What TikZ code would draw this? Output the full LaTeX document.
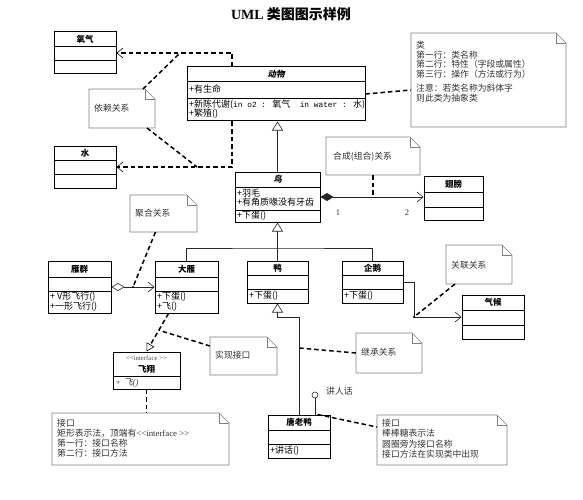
\documentclass[tikz,border=0pt]{standalone}
\usepackage{fontspec}
\setmainfont{Noto Sans CJK SC}
\newfontfamily\lat{Liberation Serif}
\newfontfamily\mon[Scale=0.87]{Liberation Mono}
\newfontfamily\cjksl[FakeSlant=0.2]{Noto Sans CJK SC}
\usetikzlibrary{arrows.meta,calc}

\tikzset{
 clsbox/.style={draw, line width=1pt, inner sep=0pt},
 clsdiv/.style={line width=0.9pt},
 ctitle/.style={font=\fontsize{8.5}{10}\selectfont\bfseries, inner sep=0pt},
 cmem/.style={font=\fontsize{9}{10}\selectfont, anchor=west, inner sep=0pt},
 notebox/.style={inner sep=0pt, outer sep=0pt},
 noteline/.style={draw=black!50, line width=0.6pt},
 ntext/.style={font=\fontsize{8.8}{9.6}\selectfont, text=black!80, anchor=north west, align=left, inner sep=0pt},
 nword/.style={font=\fontsize{8.8}{9.6}\selectfont, text=black!80, anchor=west, inner sep=0pt},
 dline/.style={line width=1.5pt, dash pattern=on 4.5pt off 3pt},
 sline/.style={line width=0.5pt, draw=black!85},
 gen/.style={sline, -{Triangle[open, length=9pt, width=11pt, fill=white, line width=0.6pt]}},
 depa/.style={-{Straight Barb[length=6pt, width=10pt, line width=0.6pt]}},
 jdot/.style={circle, fill=black, inner sep=0pt, minimum size=2.4pt},
 lbl/.style={font=\lat\fontsize{8.5}{10}\selectfont, text=black!80, inner sep=0pt},
}

\newcommand\umlcls[7]{%
 \node[clsbox, minimum width={(#4-#2)*1pt}, minimum height={(#5-#3)*1pt}] (#1) at ({(#2+#4)/2},{(#3+#5)/2}) {};
 \draw[clsdiv] (#2,#6) -- (#4,#6);
 \draw[clsdiv] (#2,#7) -- (#4,#7);}

\newcommand\umlnote[5]{%
 \node[notebox, minimum width={(#4-#2)*1pt}, minimum height={(#5-#3)*1pt}] (#1) at ({(#2+#4)/2},{(#3+#5)/2}) {};
 \draw[noteline] (#1.north west) -- ([xshift=-10pt]#1.north east) -- ([yshift=-10pt]#1.north east) -- (#1.south east) -- (#1.south west) -- cycle;
 \draw[noteline] ([xshift=-10pt]#1.north east) |- ([yshift=-10pt]#1.north east);}

\begin{document}
\begin{tikzpicture}[x=1pt,y=-1pt]
\useasboundingbox[fill=white] (0,0) rectangle (583,500);

% title
\node[inner sep=0pt, font=\fontsize{14}{16}\selectfont\bfseries] (title) at (291,14) {{\lat UML} 类图图示样例};

% notes
\umlnote{clsnote}{411}{33}{566}{127}
\node[ntext] (clsnoteT) at (416,41) {类\\第一行：类名称\\第二行：特性（字段或属性）\\第三行：操作（方法或行为）\\[5pt]注意：若类名称为斜体字\\则此类为抽象类};
\umlnote{dnote}{89}{89}{155}{128}
\node[nword] (dnoteT) at (94,108) {依赖关系};
\umlnote{cnote}{326}{137}{420}{175}
\node[nword] (cnoteT) at (333,157) {合成(组合)关系};
\umlnote{anote}{130}{195}{197}{232}
\node[nword] (anoteT) at (135,213) {聚合关系};
\umlnote{lnote}{446}{245}{512}{284}
\node[nword] (lnoteT) at (451,265) {关联关系};
\umlnote{inote}{356}{333}{422}{373}
\node[nword] (inoteT) at (361,352) {继承关系};
\umlnote{rnote}{210}{337}{277}{375}
\node[nword] (rnoteT) at (215,355) {实现接口};
\umlnote{bnote}{52}{413}{229}{465}
\node[ntext, font=\fontsize{8.8}{10}\selectfont] (bnoteT) at (57,418.5) {接口\\矩形表示法，顶端有{\lat <<interface >>}\\第一行：接口名称\\第二行：接口方法};
\umlnote{pnote}{377}{415}{507}{465}
\node[ntext, font=\fontsize{8.8}{10.5}\selectfont] (pnoteT) at (382,418.5) {接口\\棒棒糖表示法\\圆圈旁为接口名称\\接口方法在实现类中出现};

% classes
\umlcls{oxy}{54}{32}{116}{74}{46}{60}
\node[ctitle] (oxyT) at (85,39) {氧气};
\umlcls{water}{54}{146}{116}{188}{160}{174}
\node[ctitle] (waterT) at (85,153) {水};

\umlcls{anim}{187}{67}{365}{121}{81}{98}
\node[ctitle] (animT) at (276,74) {\cjksl 动物};
\node[cmem] (animA) at (189,89) {+有生命};
\node[cmem] (animO1) at (189,104.5) {+新陈代谢({\mon in o2 : }氧气{\mon\ \ in water : }水)};
\node[cmem] (animO2) at (189,114) {+繁殖()};

\umlcls{bird}{235}{172}{320}{222}{187}{210}
\node[ctitle] (birdT) at (277.5,179.5) {\cjksl 鸟};
\node[cmem] (birdA1) at (237,193) {+羽毛};
\node[cmem] (birdA2) at (237,202) {+有角质喙没有牙齿};
\node[cmem] (birdO) at (237,216) {+下蛋()};

\umlcls{wings}{424}{176}{483}{220}{192}{207}
\node[ctitle] (wingsT) at (453.5,184) {翅膀};

\umlcls{flock}{48}{261}{111}{313}{277}{291}
\node[ctitle] (flockT) at (79.5,269) {雁群};
\node[cmem] (flockO1) at (50,297) {+ V形飞行()};
\node[cmem] (flockO2) at (50,307) {+一形飞行()};

\umlcls{goose}{155}{261}{218}{313}{277}{291}
\node[ctitle] (gooseT) at (186.5,269) {大雁};
\node[cmem] (gooseO1) at (157,297) {+下蛋()};
\node[cmem] (gooseO2) at (157,307) {+飞()};

\umlcls{duck}{247}{261}{308}{303}{275}{289}
\node[ctitle] (duckT) at (277.5,268) {鸭};
\node[cmem] (duckO) at (249,296) {+下蛋()};

\umlcls{peng}{342}{261}{403}{303}{275}{289}
\node[ctitle] (pengT) at (372.5,268) {企鹅};
\node[cmem] (pengO) at (344,296) {+下蛋()};

\umlcls{climate}{462}{295}{524}{339}{310}{325}
\node[ctitle] (climateT) at (493,302.5) {气候};

\umlcls{iface}{113}{352}{180}{389}{376}{376}
\node[inner sep=0pt, font=\lat\fontsize{6.8}{8}\selectfont, text=black!70] (ifaceS) at (146.5,358) {<<interface >>};
\node[ctitle] (ifaceT) at (146.5,369) {飞翔};
\node[cmem, text=black!75] (ifaceO) at (115,382.5) {{\lat\itshape + }{\cjksl 飞}{\lat\itshape ()}};

\umlcls{tang}{268}{415}{330}{458}{430}{444}
\node[ctitle] (tangT) at (299,422.5) {唐老鸭};
\node[cmem] (tangO) at (270,451) {+讲话()};

% dependency
\draw[dline, depa] ([xshift=-44pt]anim.north) |- (oxy.east);
\draw[dline, depa] ([xshift=-44pt]anim.south) |- (water.east);
\coordinate (dj1) at (180,53);
\coordinate (dj2) at (197,167);
\draw[dline] ([xshift=-12pt]dnote.north east) -- (dj1);
\draw[dline] ([xshift=-8pt]dnote.south east) -- (dj2);

% class note
\draw[dline] (anim.east) -- ([yshift=-10pt]clsnote.west);

% generalization bird -> animal
\draw[gen] (bird.north) -- (bird.north |- anim.south);

% composition
\draw[sline, {Diamond[length=13pt, width=8pt]}-{Straight Barb[length=6pt, width=10pt, line width=0.6pt]}] (bird.east) -- (bird.east -| wings.west);
\node[lbl] (m1) at (338,213) {1};
\node[lbl] (m2) at (407,213) {2};
\draw[dline] (cnote.south) -- (cnote.south |- bird.east);

% generalization of subclasses
\coordinate (bus) at (277.5,248);
\draw[sline] (goose.north) |- (bus) -| (peng.north);
\draw[gen] (duck.north) -- (bird.south);

% aggregation
\draw[sline, {Diamond[open, fill=white, length=13pt, width=8pt, line width=0.6pt]}-{Straight Barb[length=6pt, width=10pt, line width=0.6pt]}] (flock.east) -- (goose.west);
\node[jdot] (aj) at (133,287) {};
\draw[dline] ([xshift=-8pt]anote.south) -- (aj);

% duck -> tang
\draw[gen] (tang.north) |- ([yshift=-14pt]duck.south) -- (duck.south);
\coordinate (ij) at (299,348);
\draw[dline] (inote.west) -- (ij);

% association
\draw[sline, depa] (peng.east) -- ++(11,0) |- (climate.west);
\node[jdot] (lj) at (414,317) {};
\draw[dline] ([xshift=-24pt]lnote.south) -- (lj);

% realization
\coordinate (rs) at ([xshift=-18pt]goose.south);
\draw[dline, -{Triangle[open, length=8pt, width=9pt, fill=white, line width=0.6pt]}] (rs) -- (iface.north);
\coordinate (rj) at ($(rs)!0.44!(iface.north)$);
\draw[dline] ([yshift=10pt]rnote.west) -- (rj);
\draw[dline] (iface.south) -- (iface.south |- bnote.north);

% lollipop
\node[circle, draw=black!85, line width=0.6pt, minimum size=6pt, inner sep=0pt] (lol) at (315,395) {};
\draw[sline] (lol.south) -- (lol.south |- tang.north);
\node[nword] (lolT) at (326,391) {讲人话};
\draw[dline] ([xshift=-13pt]tang.north east) -- ([yshift=13pt]pnote.west);

\end{tikzpicture}
\end{document}
